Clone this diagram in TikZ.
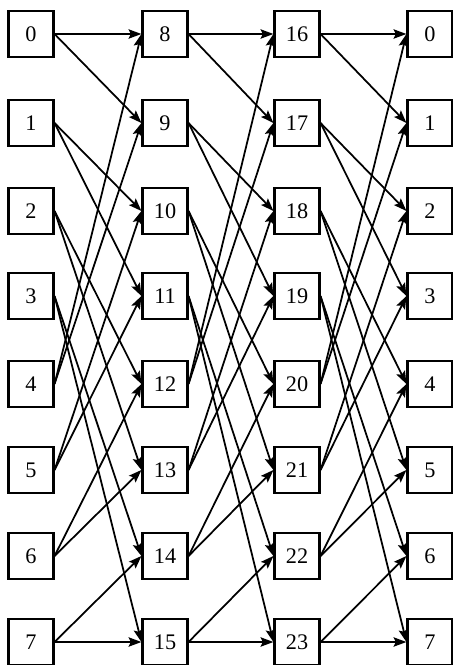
\documentclass[tikz,border=0pt]{standalone}
\usepackage{fontspec}
\setmainfont{Liberation Serif}
\usetikzlibrary{arrows.meta}

\begin{document}
\begin{tikzpicture}[x=0.03cm, y=-0.03cm,
    every node/.style={font=\fontsize{19}{22}\selectfont},
    cell/.style={draw, line width=1.8pt, minimum width=1.35cm, minimum height=1.38cm, inner sep=0pt},
    link/.style={-{Stealth[length=11pt, width=8pt, inset=2pt]}, line width=1.5pt}]
  \useasboundingbox (0,0) rectangle (453,665);
  % four stages of eight cells
  \foreach \r/\y in {0/34, 1/123, 2/211, 3/296, 4/384, 5/470, 6/556, 7/642} {
    \pgfmathtruncatemacro\lb{\r+8}
    \pgfmathtruncatemacro\lc{\r+16}
    \node[cell] (in\r) at (31, \y) {\r};
    \node[cell] (sa\r) at (165, \y) {\lb};
    \node[cell] (sb\r) at (297, \y) {\lc};
    \node[cell] (out\r) at (430, \y) {\r};
  }
  % shuffle links between stages
  \foreach \r in {0,...,7} {
    \pgfmathtruncatemacro\t{2*mod(\r,4)}
    \pgfmathtruncatemacro\u{\t+1}
    \draw[link] (in\r.east) -- (sa\t.west);
    \draw[link] (in\r.east) -- (sa\u.west);
    \draw[link] (sa\r.east) -- (sb\t.west);
    \draw[link] (sa\r.east) -- (sb\u.west);
    \draw[link] (sb\r.east) -- (out\t.west);
    \draw[link] (sb\r.east) -- (out\u.west);
  }
\end{tikzpicture}
\end{document}
